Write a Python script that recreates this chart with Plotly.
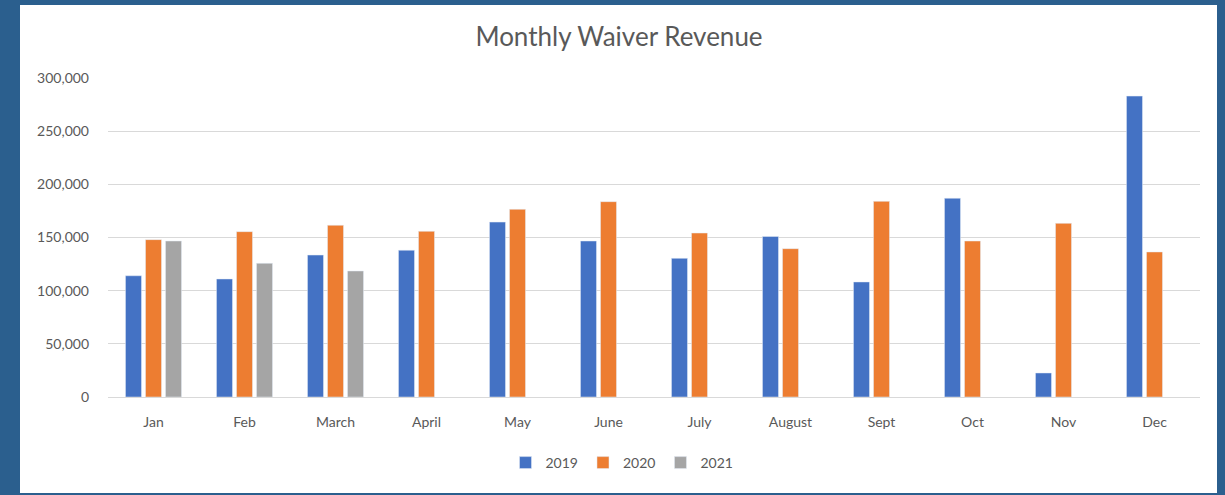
import plotly.graph_objects as go

months = ["Jan", "Feb", "March", "April", "May", "June", "July", "August", "Sept", "Oct", "Nov", "Dec"]
rev_2019 = [114000, 111000, 133500, 138000, 164500, 146700, 130400, 151000, 108200, 186900, 22600, 283000]
rev_2020 = [148000, 155500, 161500, 155800, 176500, 183700, 154200, 139500, 184000, 146700, 163300, 136400]
rev_2021 = [146700, 125700, 118500]
months_2021 = months[:3]

W, H = 1225, 495
L, R, T, B = 108, 1200, 78, 397
pw, ph = R - L, B - T

def px_x(p):
    return (p - L) / pw

def px_y(p):
    return (B - p) / ph

font_fam = "Lato, 'Open Sans', sans-serif"
grey_txt = "#595959"

fig = go.Figure()
fig.add_trace(go.Bar(name="2019", x=months, y=rev_2019, marker_color="#4472C4"))
fig.add_trace(go.Bar(name="2020", x=months, y=rev_2020, marker_color="#ED7D31"))
fig.add_trace(go.Bar(name="2021", x=months_2021, y=rev_2021, marker_color="#A5A5A5"))

fig.update_layout(
    width=W, height=H,
    margin=dict(l=L, r=W - R, t=T, b=H - B, pad=0),
    paper_bgcolor="#2B5F8E",
    plot_bgcolor="white",
    barmode="group",
    bargap=0.34,
    bargroupgap=0.2,
    font=dict(family=font_fam, color=grey_txt, size=13),
    title=dict(text="Monthly Waiver Revenue", x=619 / W, xanchor="center",
               y=1 - 37 / H, yanchor="middle",
               font=dict(family=font_fam, size=26, color=grey_txt)),
    legend=dict(orientation="h", x=px_x(622), xanchor="center",
                y=px_y(463), yanchor="middle",
                bgcolor="rgba(0,0,0,0)",
                font=dict(size=14, color=grey_txt), traceorder="normal",
                itemwidth=30),
    shapes=[dict(type="rect", xref="paper", yref="paper",
                 x0=px_x(20), x1=px_x(1217), y0=px_y(493), y1=px_y(5),
                 fillcolor="white", line=dict(width=0), layer="below")],
    xaxis=dict(categoryorder="array", categoryarray=months,
               showline=True, linecolor="#D9D9D9", linewidth=1,
               ticks="", tickfont=dict(size=14, color=grey_txt),
               ticklabelstandoff=12, showgrid=False),
    yaxis=dict(range=[0, 300000], tickvals=[0, 50000, 100000, 150000, 200000, 250000, 300000],
               tickformat=",d", gridcolor="#D9D9D9", gridwidth=1,
               zeroline=True, zerolinecolor="#D9D9D9", zerolinewidth=1,
               showline=False, ticks="", tickfont=dict(size=14, color=grey_txt),
               ticklabelstandoff=18),
)

fig.write_html("out.html")
